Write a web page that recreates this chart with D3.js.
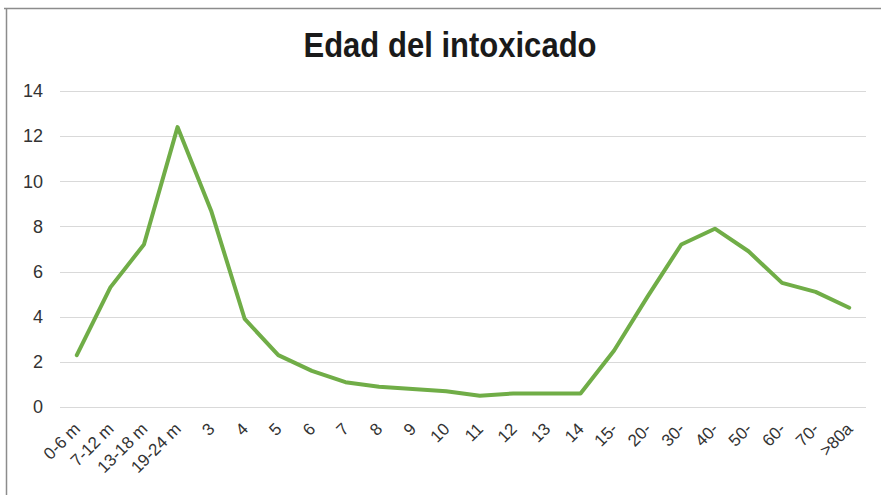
<!DOCTYPE html>
<html>
<head>
<meta charset="utf-8">
<script src="https://cdn.jsdelivr.net/npm/d3@7"></script>
<style>
  body { margin: 0; background: #fff; }
  svg { display: block; }
</style>
</head>
<body>
<svg id="chart"></svg>
<script>
var categories = ['0-6 m','7-12 m','13-18 m','19-24 m','3','4','5','6','7','8','9','10','11','12','13','14','15-','20-','30-','40-','50-','60-','70-','>80a'];
var values = [2.3, 5.3, 7.2, 12.4, 8.7, 3.9, 2.3, 1.6, 1.1, 0.9, 0.8, 0.7, 0.5, 0.6, 0.6, 0.6, 2.5, 4.9, 7.2, 7.9, 6.9, 5.5, 5.1, 4.4];
var yTicks = [0, 2, 4, 6, 8, 10, 12, 14];

var width = 881, height = 495;
var plotLeft = 60, plotRight = 866, plotTop = 91, plotBottom = 407;

var svg = d3.select('#chart').attr('width', width).attr('height', height);

// frame
svg.append('line').attr('x1', 4).attr('x2', width).attr('y1', 8.5).attr('y2', 8.5)
  .attr('stroke', '#8c8c8c').attr('stroke-width', 1.5);
svg.append('line').attr('x1', 6.5).attr('x2', 6.5).attr('y1', 8).attr('y2', height)
  .attr('stroke', '#8c8c8c').attr('stroke-width', 1.5);

svg.append('text')
  .attr('transform', 'translate(450,57) scale(0.97,1.12)')
  .attr('text-anchor', 'middle')
  .attr('font-family', '"Liberation Sans", Arial, sans-serif')
  .attr('font-weight', 'bold')
  .attr('font-size', 32)
  .attr('fill', '#1a1a1a')
  .text('Edad del intoxicado');

var x = d3.scalePoint().domain(categories).range([plotLeft, plotRight]).padding(0.5);
var y = d3.scaleLinear().domain([0, 14]).range([plotBottom, plotTop]);

// gridlines
svg.append('g').selectAll('line').data(yTicks).join('line')
  .attr('x1', plotLeft).attr('x2', plotRight)
  .attr('y1', function(d){ return Math.round(y(d)) + 0.5; })
  .attr('y2', function(d){ return Math.round(y(d)) + 0.5; })
  .attr('stroke', '#d9d9d9').attr('stroke-width', 1.2);

var yAxis = svg.append('g')
  .attr('transform', 'translate(' + plotLeft + ',0)')
  .call(d3.axisLeft(y).tickValues(yTicks).tickSize(0).tickPadding(17));
yAxis.select('.domain').remove();
yAxis.selectAll('text')
  .attr('font-family', '"Liberation Sans", Arial, sans-serif')
  .attr('font-size', 18).attr('fill', '#333');

var xAxis = svg.append('g')
  .attr('transform', 'translate(0,' + plotBottom + ')')
  .call(d3.axisBottom(x).tickSize(0).tickPadding(0));
xAxis.select('.domain').remove();
xAxis.selectAll('text')
  .attr('font-family', '"Liberation Sans", Arial, sans-serif')
  .attr('font-size', 17).attr('fill', '#333')
  .attr('text-anchor', 'end')
  .attr('dy', null)
  .attr('transform', 'translate(4,23) rotate(-45)');

var line = d3.line()
  .x(function(d, i){ return x(categories[i]); })
  .y(function(d){ return y(d); });

svg.append('path').datum(values)
  .attr('d', line)
  .attr('fill', 'none')
  .attr('stroke', '#70ad47')
  .attr('stroke-width', 4)
  .attr('stroke-linejoin', 'round')
  .attr('stroke-linecap', 'round');
</script>
</body>
</html>
